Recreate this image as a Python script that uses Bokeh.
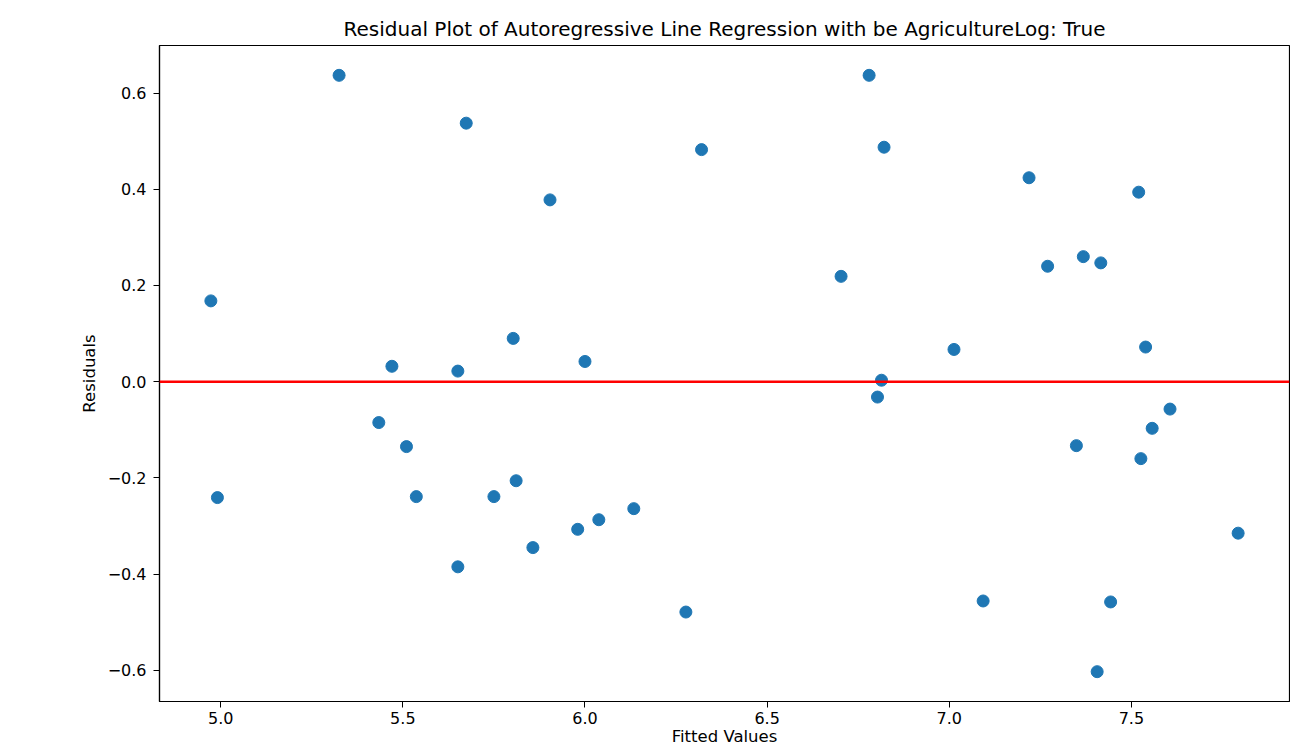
from bokeh.plotting import figure
from bokeh.models import ColumnDataSource, Span, FixedTicker, CustomJSTickFormatter, Range1d
from bokeh.embed import file_html
from bokeh.resources import INLINE

# Data
fitted = [4.973, 4.991, 5.325, 5.434, 5.470, 5.510, 5.537, 5.651, 5.651, 5.674,
          5.750, 5.803, 5.811, 5.857, 5.904, 5.980, 6.000, 6.038, 6.134, 6.277,
          6.320, 6.703, 6.780, 6.803, 6.814, 6.821, 7.013, 7.093, 7.219, 7.270,
          7.349, 7.368, 7.406, 7.416, 7.443, 7.520, 7.526, 7.539, 7.557, 7.606,
          7.793]
residuals = [0.168, -0.241, 0.637, -0.085, 0.032, -0.135, -0.239, 0.022, -0.385, 0.5375,
             -0.239, 0.090, -0.206, -0.345, 0.378, -0.307, 0.042, -0.287, -0.264, -0.479,
             0.4825, 0.219, 0.637, -0.032, 0.003, 0.4875, 0.067, -0.456, 0.424, 0.240,
             -0.133, 0.260, -0.603, 0.247, -0.458, 0.394, -0.160, 0.072, -0.097, -0.057,
             -0.315]
x_ticks = [5.0, 5.5, 6.0, 6.5, 7.0, 7.5]
y_ticks = [-0.6, -0.4, -0.2, 0.0, 0.2, 0.4, 0.6]
title_text = "Residual Plot of Autoregressive Line Regression with be AgricultureLog: True"
x_label = "Fitted Values"
y_label = "Residuals"

# matplotlib-like 5% margins
xmin, xmax = min(fitted), max(fitted)
ymin, ymax = min(residuals), max(residuals)
xm = (xmax - xmin) * 0.05
ym = (ymax - ymin) * 0.05

FONT = "DejaVu Sans"

p = figure(width=1290, height=750, output_backend="svg", toolbar_location=None,
           x_range=Range1d(xmin - xm, xmax + xm), y_range=Range1d(ymin - ym, ymax + ym),
           title=title_text, min_border_left=159, min_border_right=1,
           min_border_top=45, min_border_bottom=49)

p.background_fill_color = "white"
p.border_fill_color = "white"
p.outline_line_color = "black"
p.outline_line_width = 1.2
p.grid.visible = False

p.title.align = "center"
p.title.text_font = FONT
p.title.text_font_size = "20px"
p.title.text_font_style = "normal"
p.title.text_color = "black"

fmt = CustomJSTickFormatter(code="""
    var s = Math.abs(tick).toFixed(1);
    return (tick < -1e-9 ? '\u2212' : '') + s;
""")

for ax, ticks in ((p.xaxis[0], x_ticks), (p.yaxis[0], y_ticks)):
    ax.ticker = FixedTicker(ticks=ticks)
    ax.formatter = fmt
    ax.minor_tick_line_color = None
    ax.major_tick_out = 6
    ax.major_tick_in = 0
    ax.major_tick_line_color = "black"
    ax.axis_line_color = "black"
    ax.axis_line_width = 1.2
    ax.major_label_text_font = FONT
    ax.major_label_text_font_size = "16px"
    ax.major_label_text_color = "black"
    ax.axis_label_text_font = FONT
    ax.axis_label_text_font_size = "16.5px"
    ax.axis_label_text_font_style = "normal"
    ax.axis_label_text_color = "black"

p.xaxis[0].axis_label = x_label
p.yaxis[0].axis_label = y_label
p.xaxis[0].major_label_standoff = 4
p.xaxis[0].axis_label_standoff = 0
p.yaxis[0].major_label_standoff = 7
p.yaxis[0].axis_label_standoff = 6

src = ColumnDataSource(data=dict(x=fitted, y=residuals))
p.scatter("x", "y", source=src, size=12, fill_color="#1f77b4", line_color="#1f77b4")

p.add_layout(Span(location=0, dimension="width", line_color="red", line_width=2.5))

open("out.html", "w").write(file_html(p, INLINE))
